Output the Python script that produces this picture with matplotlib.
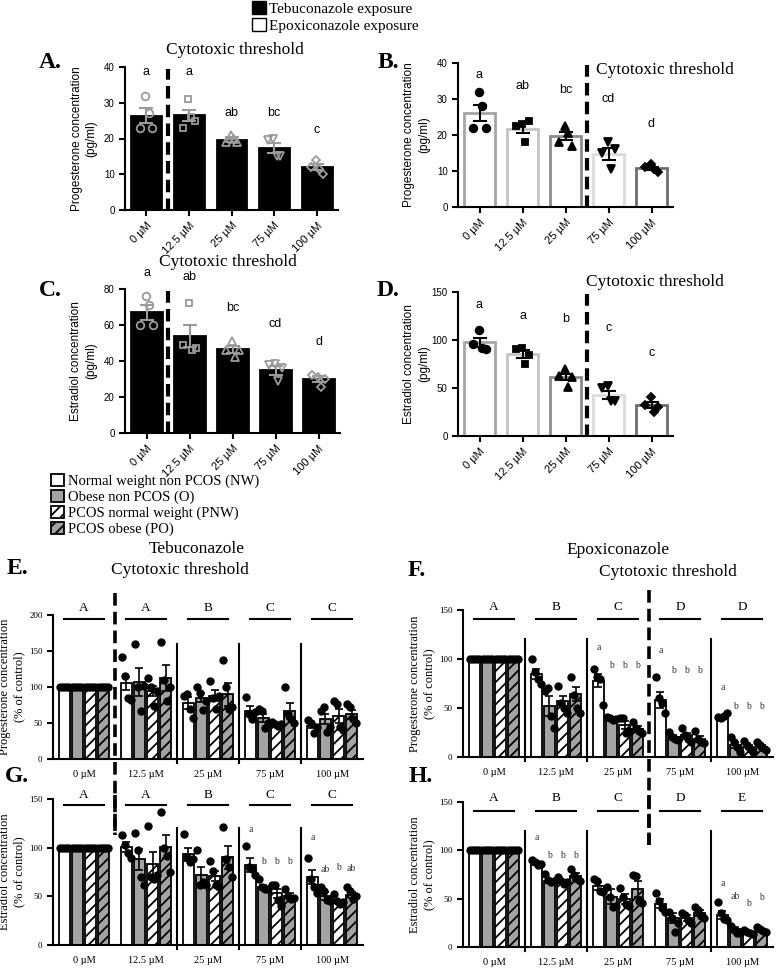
import numpy as np
import matplotlib
matplotlib.use('Agg')
import matplotlib.pyplot as plt
import matplotlib.transforms as mtransforms
from matplotlib.patches import Patch
from matplotlib.lines import Line2D

W, H = 776, 969
SANS = 'Liberation Sans'
SERIF = 'Liberation Serif'
plt.rcParams['hatch.linewidth'] = 1.3

doses = ['0 µM', '12.5 µM', '25 µM', '75 µM', '100 µM']

# ---- single exposure panels (pg/ml) ----
a_mean = [26.3, 26.5, 19.7, 17.3, 12.0]
a_sem = [2.1, 1.5, 0.6, 1.4, 0.8]
a_pts = [[32, 23, 23, 27], [31, 23, 25, 26], [21, 19, 19, 20], [20, 19.5, 15, 15], [14, 12, 10, 11.5]]
a_let = ['a', 'a', 'ab', 'bc', 'c']
a_let_y = [38.6, 38.6, 27, 27, 22.3]

b_mean = [26.1, 21.8, 19.7, 14.8, 10.7]
b_sem = [2.3, 1.3, 1.2, 1.7, 0.5]
b_pts = [[32, 22, 22, 28], [23, 22.5, 24, 18], [22.5, 18, 17, 20.5], [18, 15, 16, 10.5], [12, 11, 9.7, 10.5]]
b_let = ['a', 'ab', 'bc', 'cd', 'd']
b_let_y = [36.6, 33.5, 32.6, 30, 23.1]

c_mean = [67, 54, 46.5, 35, 30]
c_sem = [4, 6, 2, 2.5, 1.5]
c_pts = [[76, 60, 60, 71], [72, 49, 47, 46], [51, 46, 46, 42], [38.5, 38, 36, 29], [31, 32.5, 30, 25.5]]
c_let = ['a', 'ab', 'bc', 'cd', 'd']
c_let_y = [89, 86.7, 69.4, 60.7, 50.4]

d_mean = [97.5, 85.5, 61.5, 43, 32]
d_sem = [5, 4, 3.5, 4, 3]
d_pts = [[110, 96, 91, 92], [92, 91, 84, 75], [70, 63, 61, 51], [52, 50, 36, 36], [41, 32, 30, 25]]
d_let = ['a', 'a', 'b', 'c', 'c']
d_let_y = [136.8, 125, 121.8, 112, 86.6]

# ---- patient groups (% of control): NW, O, PNW, PO ----
groups = ['Normal weight non PCOS (NW)', 'Obese non PCOS (O)',
          'PCOS normal weight (PNW)', 'PCOS obese (PO)']
ctrl = [100, 100, 100, 100]

e_mean = [[100, 105, 78, 67, 46], [100, 107, 85, 57, 55], [100, 95, 88, 48, 60], [100, 113, 90, 67, 62]]
e_sem = [[0, 9, 8, 6, 3], [0, 19, 6, 6, 7], [0, 7, 8, 2, 10], [0, 18, 16, 11, 6]]
e_pts = [[ctrl, [141, 115, 85, 82], [88, 90, 70, 57], [86, 62, 56, 65], [54, 50, 36, 44]],
         [ctrl, [160, 100, 66, 102], [100, 92, 68, 80], [70, 66, 43, 50], [67, 72, 38, 45]],
         [ctrl, [112, 100, 73, 95], [108, 85, 70, 88], [51, 48, 46, 49], [80, 76, 45, 40]],
         [ctrl, [162, 110, 80, 100], [137, 100, 70, 72], [100, 62, 55, 50], [77, 72, 55, 50]]]
e_big = ['A', 'A', 'B', 'C', 'C']
e_small = []

f_mean = [[100, 85, 78, 58, 40], [100, 52, 39, 20, 12], [100, 57, 33, 22, 10], [100, 64, 29, 18, 10]]
f_sem = [[0, 5, 7, 8, 1.5], [0, 10, 1, 2, 3], [0, 5, 4, 3, 2], [0, 7, 3, 3, 2]]
f_pts = [[ctrl, [100, 87, 80, 75], [90, 82, 80, 53], [82, 60, 55, 45], [41, 40, 42, 45]],
         [ctrl, [67, 70, 42, 30], [41, 40, 38, 39], [26, 20, 18, 17], [20, 15, 10, 5]],
         [ctrl, [72, 55, 50, 45], [40, 40, 25, 27], [30, 22, 18, 15], [16, 12, 8, 5]],
         [ctrl, [82, 63, 50, 45], [36, 30, 27, 25], [27, 18, 15, 14], [15, 12, 9, 7]]]
f_big = ['A', 'B', 'C', 'D', 'D']
f_small = [(2, 0, 'a', 107), (2, 1, 'b', 89), (2, 2, 'b', 89), (2, 3, 'b', 89),
           (3, 0, 'a', 104), (3, 1, 'b', 84), (3, 2, 'b', 84), (3, 3, 'b', 84),
           (4, 0, 'a', 66), (4, 1, 'b', 47), (4, 2, 'b', 47), (4, 3, 'b', 47)]

g_mean = [[100, 101, 93, 82, 70], [100, 88, 72, 60, 50], [100, 83, 71, 53, 44], [100, 101, 90, 50, 51]]
g_sem = [[0, 5, 7, 7, 7], [0, 11, 8, 2, 4], [0, 13, 5, 5, 2], [0, 12, 12, 3, 3]]
g_pts = [[ctrl, [113, 103, 95, 89], [114, 90, 85, 88], [102, 80, 78, 72], [89, 68, 60, 53]],
         [ctrl, [115, 98, 70, 62], [98, 62, 65, 62], [68, 60, 58, 58], [60, 55, 46, 45]],
         [ctrl, [122, 70, 68, 72], [86, 76, 62, 60], [62, 62, 46, 40], [52, 45, 42, 44]],
         [ctrl, [137, 100, 91, 75], [121, 88, 80, 70], [58, 50, 47, 48], [60, 55, 47, 50]]]
g_big = ['A', 'A', 'B', 'C', 'C']
g_small = [(3, 0, 'a', 114), (3, 1, 'b', 81), (3, 2, 'b', 81), (3, 3, 'b', 81),
           (4, 0, 'a', 106), (4, 1, 'ab', 73), (4, 2, 'b', 75), (4, 3, 'ab', 74)]

h_mean = [[100, 87, 63, 45, 33], [100, 68, 52, 30, 19], [100, 67, 50, 30, 16], [100, 73, 60, 35, 18]]
h_sem = [[0, 2, 4, 5, 4], [0, 2, 8, 5, 2], [0, 2, 5, 3, 1], [0, 4, 8, 3, 1]]
h_pts = [[ctrl, [90, 88, 85, 86], [70, 68, 58, 57], [56, 48, 40, 36], [47, 35, 29, 28]],
         [ctrl, [76, 69, 67, 68], [62, 52, 41, 42], [36, 30, 16, 25], [22, 18, 15, 14]],
         [ctrl, [72, 68, 65, 67], [61, 52, 45, 42], [35, 33, 28, 25], [18, 16, 14, 13]],
         [ctrl, [81, 75, 70, 68], [74, 73, 48, 46], [41, 38, 32, 30], [21, 19, 17, 16]]]
h_big = ['A', 'B', 'C', 'D', 'E']
h_small = [(1, 0, 'a', 109), (1, 1, 'b', 90), (1, 2, 'b', 90), (1, 3, 'b', 90),
           (4, 0, 'a', 61), (4, 1, 'ab', 48), (4, 2, 'b', 40), (4, 3, 'b', 47)]

fig = plt.figure(figsize=(W / 100, H / 100), dpi=100)
fig.patch.set_facecolor('white')


def add_ax(l, t, r, b):
    return fig.add_axes([l / W, 1 - b / H, (r - l) / W, (b - t) / H])


def ftext(x, y, s, **kw):
    fig.text(x / W, 1 - y / H, s, ha='center', va='center', **kw)


def style_axis(ax, font, tsize):
    for sp in ['top', 'right']:
        ax.spines[sp].set_visible(False)
    for sp in ['left', 'bottom']:
        ax.spines[sp].set_linewidth(1.5)
    ax.tick_params(width=1.5, length=4, direction='out')
    for t in ax.get_yticklabels():
        t.set_fontfamily(font)
        t.set_fontsize(tsize)


markers = ['o', 's', '^', 'v', 'D']
m_size = [5.5, 5, 5.5, 5.5, 4.5]
offs = [-0.02, -0.14, 0.14, 0.06]


def single_panel(box, mean, sem, pts, fill, edges, mfc, mec, ecol, ymax, yticks,
                 let, let_y, thr, ylabel):
    ax = add_ax(*box)
    x = np.arange(5)
    ax.bar(x, mean, 0.7, color=fill, edgecolor=edges, linewidth=2, zorder=1)
    ax.errorbar(x, mean, yerr=sem, fmt='none', ecolor=ecol, elinewidth=1.5,
                capsize=5, capthick=1.5, zorder=3)
    for i in range(5):
        ax.plot(x[i] + np.array(offs), pts[i], linestyle='none', marker=markers[i],
                ms=m_size[i], mfc=mfc, mec=mec, mew=1.3, zorder=4)
        ax.text(x[i], let_y[i], let[i], ha='center', va='center',
                fontfamily=SANS, fontsize=9, clip_on=False)
    ax.vlines(thr, -0.01 * ymax, 0.985 * ymax, colors='black', linewidth=3,
              linestyles=[(0, (3, 1.5))], zorder=5, clip_on=False)
    ax.set_xlim(-0.5, 4.5)
    ax.set_ylim(0, ymax)
    ax.set_yticks(yticks)
    ax.set_xticks(x)
    ax.set_xticklabels(doses, rotation=45, ha='right', rotation_mode='anchor',
                       fontfamily=SANS, fontsize=8)
    style_axis(ax, SANS, 7)
    ax.set_ylabel(ylabel, fontfamily=SANS, fontsize=8.5, linespacing=1.3)
    ax.yaxis.set_label_coords(-0.13, 0.5)
    return ax


tebu_mk = '#9a9a9a'
epox_edges = ['#a6a6a6', '#c4c4c4', '#8c8c8c', '#dcdcdc', '#6e6e6e']

single_panel((125, 67, 338, 210), a_mean, a_sem, a_pts, 'black', 'black', 'none', tebu_mk,
             tebu_mk, 40, [0, 10, 20, 30, 40], a_let, a_let_y, 0.5,
             'Progesterone concentration\n(pg/ml)')
single_panel((458, 63, 673, 207), b_mean, b_sem, b_pts, 'white', epox_edges, 'black', 'black',
             'black', 40, [0, 10, 20, 30, 40], b_let, b_let_y, 2.5,
             'Progesterone concentration\n(pg/ml)')
single_panel((125, 289, 340, 433), c_mean, c_sem, c_pts, 'black', 'black', 'none', tebu_mk,
             tebu_mk, 80, [0, 20, 40, 60, 80], c_let, c_let_y, 0.5,
             'Estradiol concentration\n(pg/ml)')
single_panel((458, 292, 673, 436), d_mean, d_sem, d_pts, 'white', epox_edges, 'black', 'black',
             'black', 150, [0, 50, 100, 150], d_let, d_let_y, 2.5,
             'Estradiol concentration\n(pg/ml)')

fills = ['white', '#a3a3a3', 'white', '#a3a3a3']
hatches = [None, None, '///', '///']
g_offs = [-0.315, -0.105, 0.105, 0.315]
jit = np.array([-0.07, -0.025, 0.025, 0.07])


def group_panel(box, mean, sem, pts, ymax, yticks, big, small, thr, line_fr, let_fr,
                ylabel, thr_span):
    ax = add_ax(*box)
    gx = np.arange(5)
    for s in range(4):
        xs = gx + g_offs[s]
        ax.bar(xs, mean[s], 0.19, color=fills[s], edgecolor='black', hatch=hatches[s],
               linewidth=1.3, zorder=1)
        ax.errorbar(xs, mean[s], yerr=sem[s], fmt='none', ecolor='black',
                    elinewidth=1.2, capsize=3, capthick=1.2, zorder=3)
        for g in range(5):
            ax.plot(xs[g] + jit, pts[s][g], 'o', ms=5, color='black', zorder=4,
                    clip_on=False)
    tr = mtransforms.blended_transform_factory(ax.transData, ax.transAxes)
    for g in range(5):
        ax.plot([g - 0.32, g + 0.32], [line_fr, line_fr], color='black', lw=1.5,
                transform=tr, clip_on=False)
        ax.text(g, let_fr, big[g], transform=tr, ha='center', va='center',
                fontfamily=SERIF, fontsize=9.5, clip_on=False)
    for g, s, t, y in small:
        ax.text(g + g_offs[s], y, t, ha='center', va='bottom', fontfamily=SERIF,
                fontsize=7, color='#333333')
    for sx in [0.5, 1.5, 2.5, 3.5]:
        if sx != thr:
            ax.axvline(sx, ymin=-0.03, ymax=0.8, color='black', lw=1.5, clip_on=False)
    ftr = mtransforms.blended_transform_factory(ax.transData, fig.transFigure)
    fig.add_artist(Line2D([thr, thr], [1 - thr_span[0] / H, 1 - thr_span[1] / H],
                          transform=ftr, color='black', lw=2.6,
                          linestyle=(0, (3.5, 1.7))))
    ax.set_xlim(-0.5, 4.5)
    ax.set_ylim(0, ymax)
    ax.set_yticks(yticks)
    ax.set_xticks(gx)
    ax.set_xticklabels(doses, fontfamily=SERIF, fontsize=7.5)
    style_axis(ax, SERIF, 6.5)
    ax.tick_params(axis='x', length=0, pad=8)
    ax.set_ylabel(ylabel, fontfamily=SERIF, fontsize=9, linespacing=1.2)
    ax.yaxis.set_label_coords(-0.09, 0.5)
    return ax


group_panel((53, 615, 363, 759), e_mean, e_sem, e_pts, 200, [0, 50, 100, 150, 200],
            e_big, e_small, 0.5, 0.972, 1.05,
            'Progesterone concentration\n(% of control)', (593, 835))
group_panel((463, 610, 773, 757), f_mean, f_sem, f_pts, 150, [0, 50, 100, 150],
            f_big, f_small, 2.5, 0.94, 1.02,
            'Progesterone concentration\n(% of control)', (590, 845))
group_panel((53, 799, 363, 945), g_mean, g_sem, g_pts, 150, [0, 50, 100, 150],
            g_big, g_small, 0.5, 0.96, 1.03,
            'Estradiol concentration\n(% of control)', (795, 835))
group_panel((463, 802, 773, 947), h_mean, h_sem, h_pts, 150, [0, 50, 100, 150],
            h_big, h_small, 2.5, 0.94, 1.03,
            'Estradiol concentration\n(% of control)', (795, 845))

# titles and panel letters
title_kw = dict(fontfamily=SERIF, fontsize=12.5)
ftext(235, 50, 'Cytotoxic threshold', **title_kw)
ftext(665, 70, 'Cytotoxic threshold', **title_kw)
ftext(228, 262, 'Cytotoxic threshold', **title_kw)
ftext(655, 282, 'Cytotoxic threshold', **title_kw)
ftext(197, 549, 'Tebuconazole', **title_kw)
ftext(180, 570, 'Cytotoxic threshold', **title_kw)
ftext(618, 550, 'Epoxiconazole', **title_kw)
ftext(668, 572, 'Cytotoxic threshold', **title_kw)

lab_kw = dict(fontfamily=SERIF, fontsize=17, fontweight='bold')
for lx, ly, s in [(50, 63, 'A.'), (388, 63, 'B.'), (50, 290, 'C.'), (388, 290, 'D.'),
                  (17, 568, 'E.'), (417, 570, 'F.'), (17, 777, 'G.'), (421, 777, 'H.')]:
    ftext(lx, ly, s, **lab_kw)

# legends
top_h = [Patch(facecolor='black', edgecolor='black'), Patch(facecolor='white', edgecolor='black')]
fig.legend(top_h, ['Tebuconazole exposure', 'Epoxiconazole exposure'], loc='upper left',
           bbox_to_anchor=(252 / W, 1 - 1 / H), frameon=False,
           prop={'family': SERIF, 'size': 11}, handlelength=0.9, handleheight=0.9,
           handletextpad=0.2, labelspacing=0.15, borderpad=0, borderaxespad=0)
mid_h = [Patch(facecolor=fills[i], edgecolor='black', hatch=hatches[i], linewidth=1.3)
         for i in range(4)]
fig.legend(mid_h, groups, loc='upper left', bbox_to_anchor=(51 / W, 1 - 474 / H),
           frameon=False, prop={'family': SERIF, 'size': 10.5}, handlelength=0.9,
           handleheight=0.9, handletextpad=0.3, labelspacing=0.12, borderpad=0,
           borderaxespad=0)

fig.savefig('out.png', dpi=100, facecolor='white')
